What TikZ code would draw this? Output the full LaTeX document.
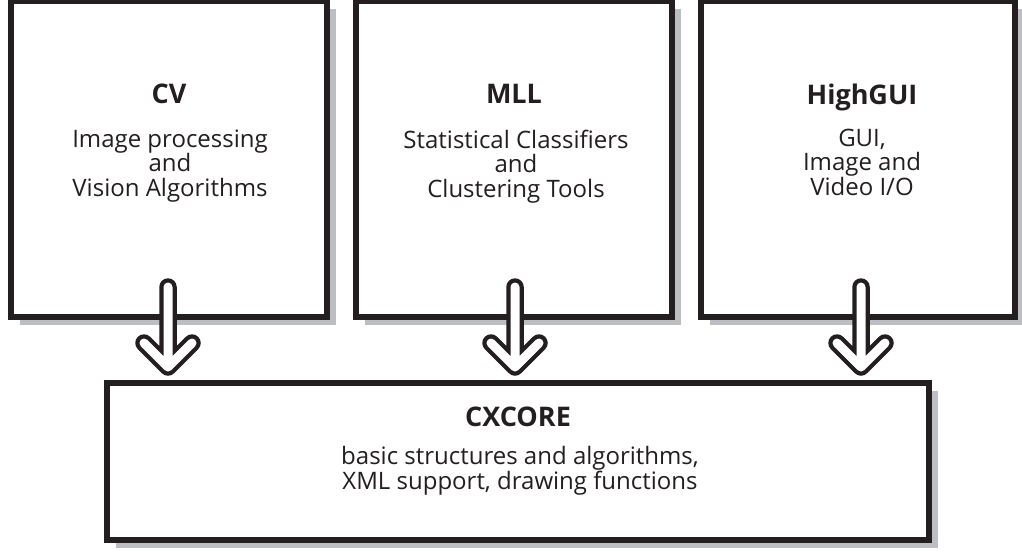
\documentclass[tikz,border=0pt]{standalone}
\usepackage{fontspec}
\setmainfont{Open Sans}
\usetikzlibrary{calc,shadows}
\definecolor{ink}{RGB}{35,31,32}
\definecolor{shade}{RGB}{188,190,193}

\begin{document}
\begin{tikzpicture}[x=1pt,y=-1pt,
  box/.style={draw=ink, line width=6pt, fill=white, outer sep=0pt, inner sep=0pt,
    drop shadow={shadow xshift=9pt, shadow yshift=-8pt, fill=shade, opacity=1}},
  ttl/.style={font=\bfseries\fontsize{27}{29}\selectfont, text=ink, anchor=base, inner sep=0pt},
  body/.style={font=\fontsize{24}{24.5}\selectfont, text=ink, align=center, anchor=base, inner sep=0pt},
  arr/.style={draw=white, line width=9pt, line cap=round, line join=round,
    preaction={draw=ink, line width=17.5pt, line cap=round, line join=round}}
]
\useasboundingbox (0,0) rectangle (1022,552);

% module boxes
\node[box, minimum width=316pt, minimum height=316pt] (cv)   at (169,159) {};
\node[box, minimum width=316pt, minimum height=316pt] (mll)  at (514,159) {};
\node[box, minimum width=314pt, minimum height=316pt] (hgui) at (858,159) {};
\node[box, minimum width=822pt, minimum height=157pt] (core) at (518,461.5) {};

% labels (body nodes sit on the baseline of their last line)
\node[ttl] (cvt) at (169,103) {CV};
\node[body] (cvb) at (170,196) {Image processing\\and\\Vision Algorithms};
\node[ttl] (mllt) at (514,103) {MLL};
\node[body] (mllb) at (516,197) {Statistical Classifiers\\and\\Clustering Tools};
\node[ttl] (hguit) at (862,104) {HighGUI};
\node[body] (hguib) at (862,195) {GUI,\\Image and\\Video I/O};
\node[ttl] (coret) at (518,426) {CXCORE};
\node[body] (coreb) at (520,489) {basic structures and algorithms,\\XML support, drawing functions};

% hollow arrows down into the core
\coordinate (a1s) at ($(cv.south)+(-1,-30)$);
\coordinate (a1e) at ($(a1s |- core.north)+(0,-16)$);
\coordinate (a2s) at ($(mll.south)+(1,-30)$);
\coordinate (a2e) at ($(a2s |- core.north)+(0,-16)$);
\coordinate (a3s) at ($(hgui.south)+(3,-30)$);
\coordinate (a3e) at ($(a3s |- core.north)+(0,-16)$);
\foreach \s/\e in {a1s/a1e, a2s/a2e, a3s/a3e}
  \draw[arr] (\s) -- (\e) ($(\e)+(-24,-24)$) -- (\e) -- ++(24,-24);
\end{tikzpicture}
\end{document}
